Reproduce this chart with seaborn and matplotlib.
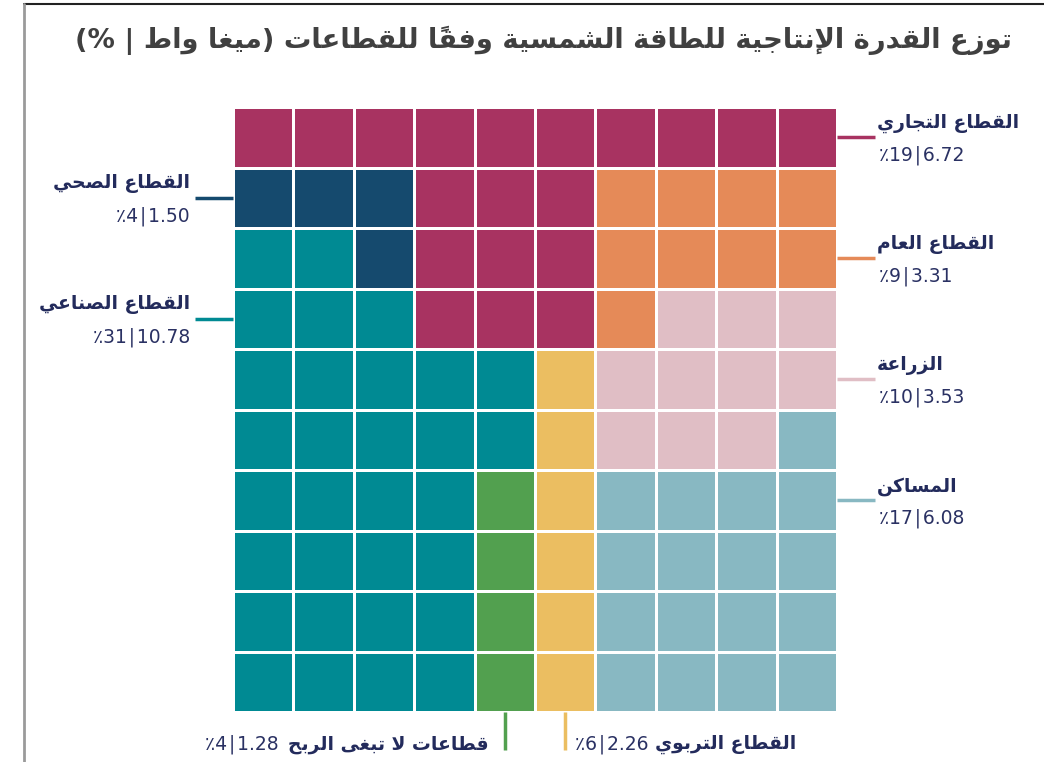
import numpy as np
import matplotlib
matplotlib.use("Agg")
import matplotlib.pyplot as plt
from matplotlib.colors import ListedColormap
import seaborn as sns

# ---------------- data ----------------
title_text = "توزع القدرة الإنتاجية للطاقة الشمسية وفقاً للقطاعات (ميغا واط | %)"
categories = ["القطاع التجاري", "القطاع العام", "الزراعة", "المساكن",
              "القطاع الصحي", "القطاع الصناعي", "قطاعات لا تبغى الربح", "القطاع التربوي"]
percent = [19, 9, 10, 17, 4, 31, 4, 6]
megawatt = [6.72, 3.31, 3.53, 6.08, 1.50, 10.78, 1.28, 2.26]
colors = ["#A83361", "#E58A58", "#E0BEC5", "#88B8C2",
          "#154A6E", "#008A93", "#52A04F", "#EBBE61"]

# ---------------- arabic shaping (visual order) ----------------
_T = {
    '\u0621': (0xFE80, 1), '\u0622': (0xFE81, 2), '\u0623': (0xFE83, 2), '\u0624': (0xFE85, 2),
    '\u0625': (0xFE87, 2), '\u0626': (0xFE89, 4), '\u0627': (0xFE8D, 2), '\u0628': (0xFE8F, 4),
    '\u0629': (0xFE93, 2), '\u062A': (0xFE95, 4), '\u062B': (0xFE99, 4), '\u062C': (0xFE9D, 4),
    '\u062D': (0xFEA1, 4), '\u062E': (0xFEA5, 4), '\u062F': (0xFEA9, 2), '\u0630': (0xFEAB, 2),
    '\u0631': (0xFEAD, 2), '\u0632': (0xFEAF, 2), '\u0633': (0xFEB1, 4), '\u0634': (0xFEB5, 4),
    '\u0635': (0xFEB9, 4), '\u0636': (0xFEBD, 4), '\u0637': (0xFEC1, 4), '\u0638': (0xFEC5, 4),
    '\u0639': (0xFEC9, 4), '\u063A': (0xFECD, 4), '\u0641': (0xFED1, 4), '\u0642': (0xFED5, 4),
    '\u0643': (0xFED9, 4), '\u0644': (0xFEDD, 4), '\u0645': (0xFEE1, 4), '\u0646': (0xFEE5, 4),
    '\u0647': (0xFEE9, 4), '\u0648': (0xFEED, 2), '\u0649': (0xFEEF, 2), '\u064A': (0xFEF1, 4),
}
_LAMALEF = {'\u0622': 0xFEF5, '\u0623': 0xFEF7, '\u0625': 0xFEF9, '\u0627': 0xFEFB}
_MIRROR = {'(': ')', ')': '('}


def ar(s):
    clusters = []  # [key, marks]
    i = 0
    while i < len(s):
        ch = s[i]
        if '\u064B' <= ch <= '\u0652':
            if clusters:
                clusters[-1][1] += ch
            i += 1
            continue
        if ch == '\u0644' and i + 1 < len(s) and s[i + 1] in _LAMALEF:
            clusters.append([('LA', _LAMALEF[s[i + 1]]), ''])
            i += 2
            continue
        clusters.append([ch, ''])
        i += 1

    def info(k):
        if isinstance(k, tuple):
            return (k[1], 2)
        return _T.get(k)

    out = []
    for j, (k, marks) in enumerate(clusters):
        inf = info(k)
        if inf is None:
            out.append(_MIRROR.get(k, k) + marks)
            continue
        base, n = inf
        prev = info(clusters[j - 1][0]) if j > 0 else None
        nxt = info(clusters[j + 1][0]) if j + 1 < len(clusters) else None
        jp = prev is not None and prev[1] == 4 and n >= 2
        jn = n == 4 and nxt is not None and nxt[1] >= 2
        if n == 4:
            idx = 3 if (jp and jn) else 1 if jp else 2 if jn else 0
        elif n == 2:
            idx = 1 if jp else 0
        else:
            idx = 0
        out.append(chr(base + idx) + marks)
    return ''.join(out[::-1])


def numtxt(p, m):
    return f"\u066A{p}\u200A|\u200A{m:.2f}"


# ---------------- waffle layout (fill path) ----------------
path = [(r, c) for r in range(9, 0, -1) for c in range(9, 5, -1)]
path += [(r, c) for r in range(3, 0, -1) for c in range(5, 2, -1)] + [(0, c) for c in range(9, -1, -1)]
path += [(1, 0), (1, 1), (1, 2), (2, 2), (2, 1), (2, 0)] + [(3, c) for c in range(3)]
path += [(r, c) for r in (4, 5) for c in range(5)] + [(r, c) for r in range(6, 10) for c in range(4)]
path += [(r, 4) for r in range(6, 10)] + [(r, 5) for r in range(4, 10)]
fill_sequence = [3, 2, 1, 0, 4, 5, 6, 7]

grid = np.zeros((10, 10), dtype=int)
k = 0
for cat in fill_sequence:
    for _ in range(percent[cat]):
        r, c = path[k]
        grid[r, c] = cat
        k += 1

# ---------------- figure ----------------
sns.set_theme(style="white")
plt.rcParams['font.family'] = ['DejaVu Sans']

W, H = 1044, 762
fig = plt.figure(figsize=(W / 100, H / 100), dpi=100)
fig.patch.set_facecolor("white")
ax = fig.add_axes([233 / W, (H - 712) / H, 604 / W, 605 / H])
sns.heatmap(grid, cmap=ListedColormap(colors), vmin=-0.5, vmax=7.5, cbar=False,
            linewidths=2, linecolor="white", ax=ax, xticklabels=False, yticklabels=False)
ax.set_axis_off()

# frame
fig.add_artist(plt.Line2D([24 / W, 1], [1 - 4 / H, 1 - 4 / H], color="#222222", lw=1.5,
                          transform=fig.transFigure))
fig.add_artist(plt.Line2D([24 / W, 24 / W], [0, 1 - 4 / H], color="#9A9A9A", lw=2,
                          transform=fig.transFigure))

# title
fig.text(1012 / W, 1 - 40 / H, ar(title_text), ha="right", va="center", fontsize=19.7,
         fontweight="bold", color="#404040")

HEAD = "#232B5C"
NUMC = "#2A3163"
NUMFS = 13.5
HEADFS = 13.5
cell = 60.4
ll = 38 / cell  # leader length

# right side labels: (category, row)
for cat, row in [(0, 0), (1, 2), (2, 4), (3, 6)]:
    y = row + 0.5
    ax.plot([10, 10 + ll], [y, y], color=colors[cat], lw=2.5, clip_on=False, solid_capstyle="butt")
    ax.text(10 + 40 / cell, y - 14 / cell, ar(categories[cat]), ha="left", va="center",
            fontsize=HEADFS, fontweight="bold", color=HEAD)
    ax.text(10 + 42 / cell, y + 18 / cell, numtxt(percent[cat], megawatt[cat]), ha="left",
            va="center", fontsize=NUMFS, color=NUMC)

# left side labels
for cat, row in [(4, 1), (5, 3)]:
    y = row + 0.5
    ax.plot([0, -ll], [y, y], color=colors[cat], lw=2.5, clip_on=False, solid_capstyle="butt")
    ax.text(-43 / cell, y - 14 / cell, ar(categories[cat]), ha="right", va="center",
            fontsize=HEADFS, fontweight="bold", color=HEAD)
    ax.text(-43 / cell, y + 18 / cell, numtxt(percent[cat], megawatt[cat]), ha="right",
            va="center", fontsize=NUMFS, color=NUMC)

# bottom labels
for cat, col in [(6, 4), (7, 5)]:
    x = col + 0.5
    ax.plot([x, x], [10, 10 + ll], color=colors[cat], lw=2.5, clip_on=False, solid_capstyle="butt")

fig.canvas.draw()
rend = fig.canvas.get_renderer()
inv = ax.transData.inverted()
yb = (743 - 107) / cell

# non-profit: arabic right-aligned left of its line, numbers further left
t1 = ax.text(4.5 - 16 / cell, yb, ar(categories[6]), ha="right", va="center",
             fontsize=HEADFS, fontweight="bold", color=HEAD)
fig.canvas.draw()
x0 = inv.transform(t1.get_window_extent(rend).p0)[0]
ax.text(x0 - 10 / cell, yb, numtxt(percent[6], megawatt[6]), ha="right", va="center",
        fontsize=NUMFS, color=NUMC)

# education: numbers right of its line, arabic after
t2 = ax.text(5.5 + 10 / cell, yb, numtxt(percent[7], megawatt[7]), ha="left", va="center",
             fontsize=NUMFS, color=NUMC)
fig.canvas.draw()
x1 = inv.transform(t2.get_window_extent(rend).p1)[0]
ax.text(x1 + 6 / cell, yb, ar(categories[7]), ha="left", va="center",
        fontsize=HEADFS, fontweight="bold", color=HEAD)

fig.savefig("out.png", dpi=100, facecolor="white")
